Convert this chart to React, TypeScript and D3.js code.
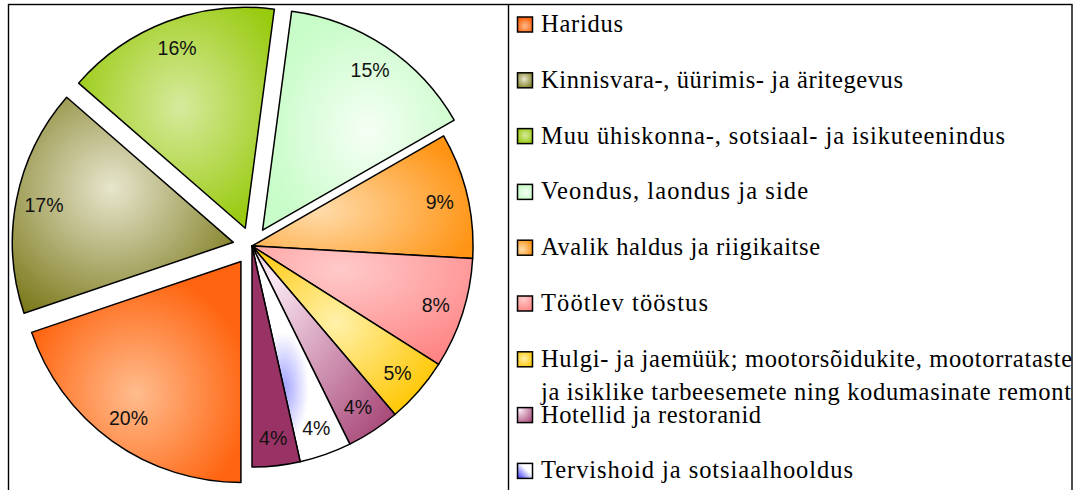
import * as d3 from "d3";

// categories in legend order (pie runs clockwise from 6 o'clock in this order)
const categories = [
  "Haridus",
  "Kinnisvara-, üürimis- ja äritegevus",
  "Muu ühiskonna-, sotsiaal- ja isikuteenindus",
  "Veondus, laondus ja side",
  "Avalik haldus ja riigikaitse",
  "Töötlev tööstus",
  "Hulgi- ja jaemüük; mootorsõidukite, mootorrataste\nja isiklike tarbeesemete ning kodumasinate remont",
  "Hotellid ja restoranid",
  "Tervishoid ja sotsiaalhooldus",
  "Ehitus",
];

// share of each category, %
const shares = [19.8, 16.6, 15.7, 14.6, 9.2, 8.1, 4.8, 3.9, 3.8, 3.5];

const explodedCategories = [categories[0], categories[1], categories[2], categories[3]];

// fill gradients: inner colour at (cx, cy), outer colour at radius r (bounding box units)
const fills = [
  { inner: "#ffbc8e", outer: "#ff6510", cx: 0.5, cy: 0.6, r: 0.55 },
  { inner: "#e7e5cd", outer: "#7c7a1c", cx: 0.45, cy: 0.42, r: 0.68 },
  { inner: "#d7ea9d", outer: "#98ca0e", cx: 0.52, cy: 0.45, r: 0.6 },
  { inner: "#f5fff5", outer: "#c8fcc8", cx: 0.55, cy: 0.55, r: 0.55 },
  { inner: "#ffdcab", outer: "#ff9312", cx: 0.3, cy: 0.6, r: 0.75 },
  { inner: "#ffcaca", outer: "#ff8484", cx: 0.4, cy: 0.2, r: 0.85 },
  { inner: "#fff1aa", outer: "#ffc90c", cx: 0.45, cy: 0.45, r: 0.6 },
  { inner: "#fbe9f4", outer: "#a84878", cx: 0.15, cy: 0.15, r: 1.1 },
  { inner: "#a0a0ff", outer: "#ffffff", cx: 0.32, cy: 0.66, r: 0.26 },
  { inner: "#993366", outer: "#993366", cx: 0.5, cy: 0.5, r: 0.5 },
];

// stretched legend text widths (the source renders with wide letter spacing)
const legendWidths = [[82], [362], [464], [267], [279], [167], [531, 530], [220], [312], [110]];

const width = 1078;
const height = 490;

export default function App() {
  const cx = 252;
  const cy = 246;
  const radius = 221;
  const explode = 19;

  const pie = d3
    .pie<number>()
    .sort(null)
    .startAngle(Math.PI)
    .endAngle(3 * Math.PI);
  const arcs = pie(shares);

  const arc = d3.arc<d3.PieArcDatum<number>>().innerRadius(0).outerRadius(radius);
  const labelArc = d3.arc<d3.PieArcDatum<number>>().innerRadius(193).outerRadius(193);

  const legendX = 517.5;
  const legendTop = 32;
  const legendStep = 55.8;
  const swatch = 15;

  return (
    <svg
      width={width}
      height={height}
      style={{ position: "absolute", left: 0, top: 0, background: "#fff" }}
    >
      <defs>
        {fills.map((f, i) => (
          <radialGradient key={i} id={`fill${i}`} cx={f.cx} cy={f.cy} r={f.r}>
            <stop offset="0" stopColor={f.inner} />
            <stop offset="1" stopColor={f.outer} />
          </radialGradient>
        ))}
        {/* the small legend swatch of Tervishoid shows a stronger blue corner */}
        <linearGradient id="swatch8" x1="0" y1="1" x2="1" y2="0">
          <stop offset="0" stopColor="#3333ff" />
          <stop offset="0.6" stopColor="#ffffff" />
        </linearGradient>
      </defs>

      {/* frame */}
      <rect x={8.5} y={4.5} width={1063.5} height={600} fill="none" stroke="#000" strokeWidth={1.4} />
      <line x1={508.5} x2={508.5} y1={4.5} y2={height} stroke="#000" strokeWidth={1.4} />

      {/* pie */}
      <g transform={`translate(${cx},${cy})`}>
        {arcs.map((d, i) => {
          const mid = (d.startAngle + d.endAngle) / 2;
          const off = explodedCategories.includes(categories[i]) ? explode : 0;
          const dx = Math.sin(mid) * off;
          const dy = -Math.cos(mid) * off;
          const [lx, ly] = labelArc.centroid(d);
          return (
            <g key={i} transform={`translate(${dx},${dy})`}>
              <path
                d={arc(d) as string}
                fill={`url(#fill${i})`}
                stroke="#000"
                strokeWidth={1.5}
                strokeLinejoin="round"
              />
              <text
                x={lx}
                y={ly}
                textAnchor="middle"
                dominantBaseline="central"
                fontFamily="'Liberation Sans', Arial, sans-serif"
                fontSize={19.5}
                fill="#111"
              >
                {`${Math.round(d.data)}%`}
              </text>
            </g>
          );
        })}
      </g>

      {/* legend */}
      <g fontFamily="'Liberation Serif', 'Times New Roman', serif" fontSize={24.5} fill="#000">
        {categories.map((name, i) => {
          const base = legendTop + i * legendStep;
          const lines = name.split("\n");
          return (
            <g key={name}>
              <rect
                x={legendX}
                y={base - swatch}
                width={swatch}
                height={swatch}
                fill={i === 8 ? "url(#swatch8)" : `url(#fill${i})`}
                stroke="#000"
                strokeWidth={1.5}
              />
              {lines.map((line, j) => (
                <text
                  key={j}
                  x={541}
                  y={base + j * 33.5}
                  textLength={legendWidths[i][j]}
                  lengthAdjust="spacing"
                >
                  {line}
                </text>
              ))}
            </g>
          );
        })}
      </g>
    </svg>
  );
}
